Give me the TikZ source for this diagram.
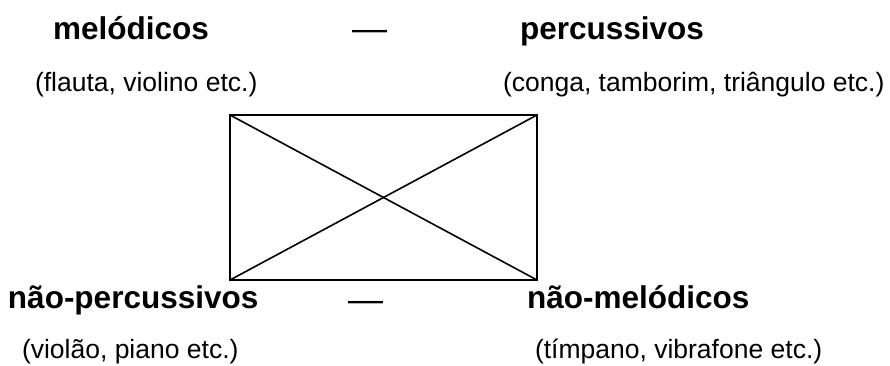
\documentclass[tikz,border=0pt]{standalone}
\usepackage{fontspec}
\setmainfont{Liberation Sans}
\begin{document}
\begin{tikzpicture}[x=1pt,y=-1pt,
  every node/.style={inner sep=0pt,outer sep=0pt,anchor=base west},
  head/.style={font=\fontsize{31.5pt}{36pt}\selectfont\bfseries},
  sub/.style={font=\fontsize{26.5pt}{30pt}\selectfont},
  dashmark/.style={font=\fontsize{35pt}{38pt}\selectfont},
  frame/.style={line width=1.6pt,line join=miter}]
\useasboundingbox (0,0) rectangle (890,365);
% corners of the rectangle
\coordinate (tl) at (230,115);
\coordinate (tr) at (537,115);
\coordinate (br) at (537,280);
\coordinate (bl) at (230,280);
\draw[frame] (tl) -- (tr) -- (br) -- (bl) -- cycle;
\draw[frame] (tl) -- (br);
\draw[frame] (tr) -- (bl);
% top labels
\node[head] (mel) at (53,39) {melódicos};
\node[dashmark] (d1) at (352,40) {—};
\node[head] (perc) at (520,39) {percussivos};
\node[sub] (flauta) at (35,91) {(flauta, violino etc.)};
\node[sub] (conga) at (503,91) {(conga, tamborim, triângulo etc.)};
% bottom labels
\node[head] (nperc) at (8,308) {não-percussivos};
\node[dashmark] (d2) at (348,311) {—};
\node[head] (nmel) at (527,308) {não-melódicos};
\node[sub] (violao) at (22,358) {(violão, piano etc.)};
\node[sub] (timp) at (535,358) {(tímpano, vibrafone etc.)};
\end{tikzpicture}
\end{document}
